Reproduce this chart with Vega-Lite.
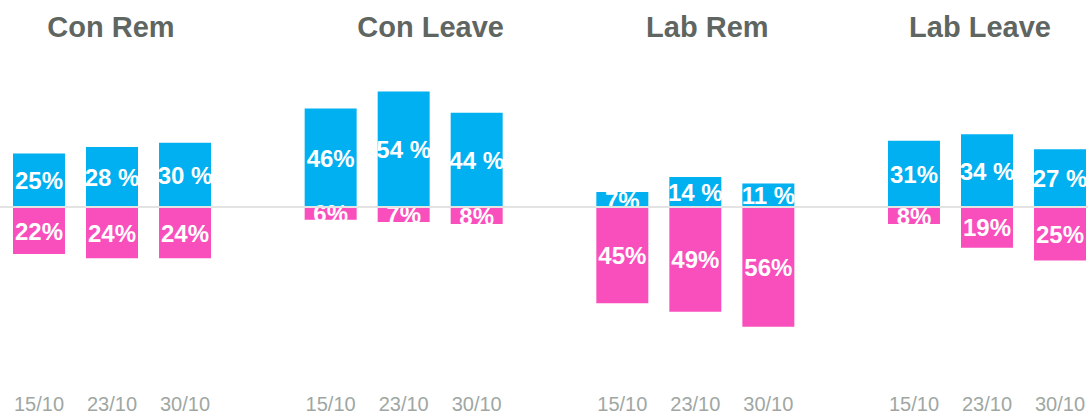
{
  "$schema": "https://vega.github.io/schema/vega-lite/v6.json",
  "width": 1088,
  "height": 357,
  "autosize": "none",
  "padding": {"top": 60, "left": 0, "right": 0, "bottom": 0},
  "background": "white",
  "config": {"view": {"stroke": null}, "font": "Liberation Sans"},
  "data": {
    "values": [
      {"party": "Con Rem", "date": "15/10", "side": "pos", "v": 25, "label": "25%"},
      {"party": "Con Rem", "date": "23/10", "side": "pos", "v": 28, "label": "28 %"},
      {"party": "Con Rem", "date": "30/10", "side": "pos", "v": 30, "label": "30 %"},
      {"party": "Con Leave", "date": "15/10", "side": "pos", "v": 46, "label": "46%"},
      {"party": "Con Leave", "date": "23/10", "side": "pos", "v": 54, "label": "54 %"},
      {"party": "Con Leave", "date": "30/10", "side": "pos", "v": 44, "label": "44 %"},
      {"party": "Lab Rem", "date": "15/10", "side": "pos", "v": 7, "label": "7%"},
      {"party": "Lab Rem", "date": "23/10", "side": "pos", "v": 14, "label": "14 %"},
      {"party": "Lab Rem", "date": "30/10", "side": "pos", "v": 11, "label": "11 %"},
      {"party": "Lab Leave", "date": "15/10", "side": "pos", "v": 31, "label": "31%"},
      {"party": "Lab Leave", "date": "23/10", "side": "pos", "v": 34, "label": "34 %"},
      {"party": "Lab Leave", "date": "30/10", "side": "pos", "v": 27, "label": "27 %"},
      {"party": "Con Rem", "date": "15/10", "side": "neg", "v": -22, "label": "22%"},
      {"party": "Con Rem", "date": "23/10", "side": "neg", "v": -24, "label": "24%"},
      {"party": "Con Rem", "date": "30/10", "side": "neg", "v": -24, "label": "24%"},
      {"party": "Con Leave", "date": "15/10", "side": "neg", "v": -6, "label": "6%"},
      {"party": "Con Leave", "date": "23/10", "side": "neg", "v": -7, "label": "7%"},
      {"party": "Con Leave", "date": "30/10", "side": "neg", "v": -8, "label": "8%"},
      {"party": "Lab Rem", "date": "15/10", "side": "neg", "v": -45, "label": "45%"},
      {"party": "Lab Rem", "date": "23/10", "side": "neg", "v": -49, "label": "49%"},
      {"party": "Lab Rem", "date": "30/10", "side": "neg", "v": -56, "label": "56%"},
      {"party": "Lab Leave", "date": "15/10", "side": "neg", "v": -8, "label": "8%"},
      {"party": "Lab Leave", "date": "23/10", "side": "neg", "v": -19, "label": "19%"},
      {"party": "Lab Leave", "date": "30/10", "side": "neg", "v": -25, "label": "25%"}
    ]
  },
  "transform": [{"calculate": "datum.v / 2", "as": "mid"}],
  "encoding": {
    "x": {
      "field": "party",
      "type": "nominal",
      "sort": ["Con Rem", "Con Leave", "Lab Rem", "Lab Leave"],
      "scale": {"paddingInner": 0.3211, "paddingOuter": 0.0257, "align": 0.867},
      "axis": {
        "orient": "top",
        "title": null,
        "domain": false,
        "ticks": false,
        "grid": false,
        "labelAngle": 0,
        "labelFontSize": 29,
        "labelFontWeight": "bold",
        "labelColor": "#5f6661",
        "labelPadding": 18,
        "labelOffset": {
          "condition": [
            {"test": "datum.value === 'Con Leave'", "value": 27},
            {"test": "datum.value === 'Lab Rem'", "value": 12},
            {"test": "datum.value === 'Lab Leave'", "value": -7}
          ],
          "value": -1
        }
      }
    },
    "xOffset": {
      "field": "date",
      "type": "nominal",
      "sort": ["15/10", "23/10", "30/10"],
      "scale": {"paddingInner": 0.288, "paddingOuter": 0}
    }
  },
  "layer": [
    {
      "transform": [{"filter": "datum.side === 'pos'"}],
      "mark": {"type": "bar", "color": "#00b0f0"},
      "encoding": {
        "y": {"field": "v", "type": "quantitative", "scale": {"domain": [-98.13, 68.69], "nice": false, "zero": false}, "axis": null},
        "y2": {"datum": 0}
      }
    },
    {
      "transform": [{"filter": "datum.side === 'pos'"}],
      "mark": {"type": "text", "color": "white", "fontSize": 24, "fontWeight": "bold", "baseline": "middle", "align": "center", "dy": 2},
      "encoding": {
        "y": {"field": "mid", "type": "quantitative"},
        "text": {"field": "label"}
      }
    },
    {
      "transform": [{"filter": "datum.side === 'neg'"}],
      "mark": {"type": "bar", "color": "#f94fbd"},
      "encoding": {
        "y": {"field": "v", "type": "quantitative"},
        "y2": {"datum": 0}
      }
    },
    {
      "transform": [{"filter": "datum.side === 'neg'"}],
      "mark": {"type": "text", "color": "white", "fontSize": 24, "fontWeight": "bold", "baseline": "middle", "align": "center", "dy": 2},
      "encoding": {
        "y": {"field": "mid", "type": "quantitative"},
        "text": {"field": "label"}
      }
    },
    {
      "mark": {"type": "rule", "color": "#e3e3e3", "strokeWidth": 2},
      "encoding": {"y": {"datum": 0}, "x": null, "xOffset": null}
    },
    {
      "transform": [{"filter": "datum.side === 'pos'"}],
      "mark": {"type": "text", "color": "#a0a7a3", "fontSize": 20, "baseline": "middle", "align": "center", "dy": 1},
      "encoding": {
        "y": {"datum": -92},
        "text": {"field": "date"}
      }
    }
  ]
}
